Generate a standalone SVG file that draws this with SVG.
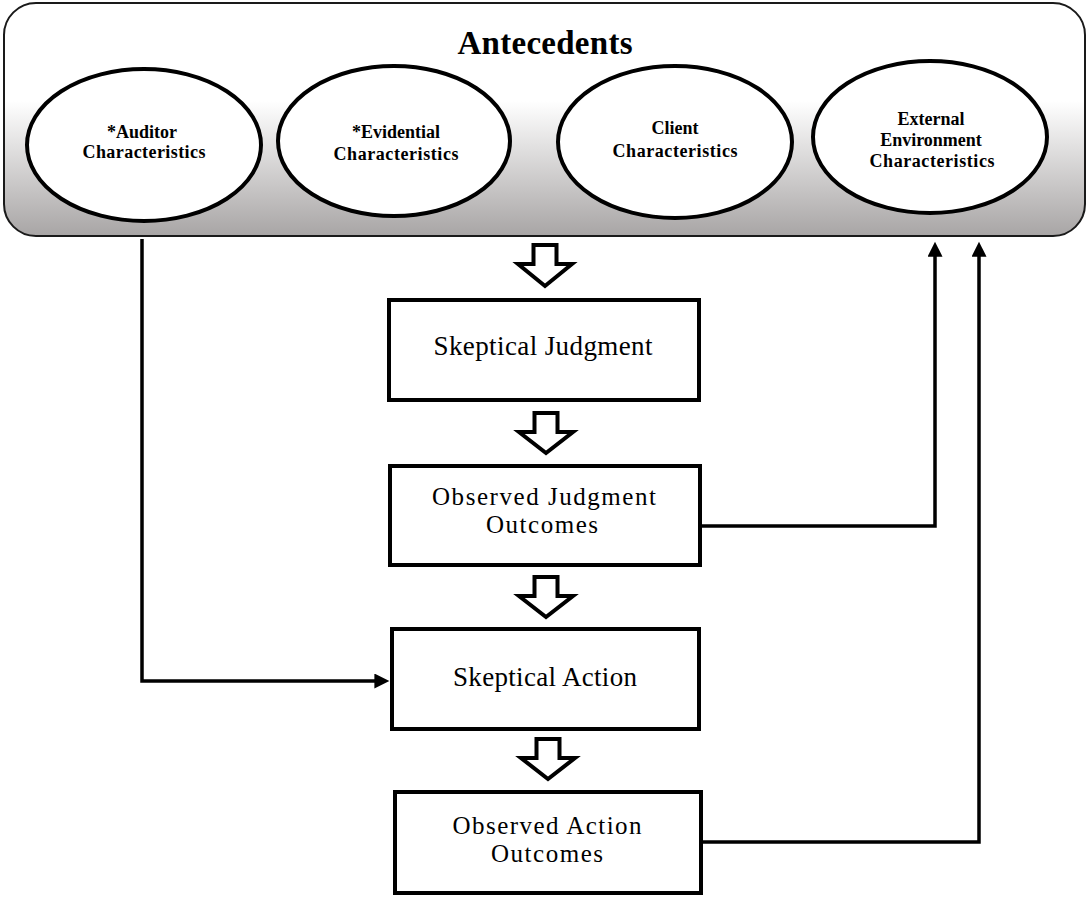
<svg xmlns="http://www.w3.org/2000/svg" width="1089" height="899" viewBox="0 0 1089 899">
<defs>
<linearGradient id="bg" x1="0" y1="0" x2="0" y2="1">
<stop offset="0" stop-color="#ffffff"/>
<stop offset="0.42" stop-color="#ffffff"/>
<stop offset="1" stop-color="#a8a5a5"/>
</linearGradient>
<marker id="ah" viewBox="0 0 16 16" refX="6" refY="8" markerWidth="16" markerHeight="15" markerUnits="userSpaceOnUse" orient="auto">
<path d="M0,0 L16,8 L0,16 z" fill="#000"/>
</marker>
<style>
.ell{fill:#fff;stroke:#000;stroke-width:4}
.box{fill:#fff;stroke:#000;stroke-width:4}
.blk{fill:#fff;stroke:#000;stroke-width:4;stroke-linejoin:miter}
.et{font-family:"Liberation Serif","Times New Roman",serif;font-weight:bold;font-size:18px;text-anchor:middle;fill:#000}
.bt{font-family:"Liberation Serif","Times New Roman",serif;font-size:27px;text-anchor:middle;fill:#000}
.bt2{font-family:"Liberation Serif","Times New Roman",serif;font-size:25px;text-anchor:middle;fill:#000}
.con{fill:none;stroke:#000;stroke-width:3.5}
</style>
</defs>
<g id="antecedents">
<rect x="4" y="3" width="1081" height="233" rx="32" ry="32" fill="url(#bg)" stroke="#1a1a1a" stroke-width="2"/>
<text x="545" y="54" font-family="'Liberation Serif','Times New Roman',serif" font-weight="bold" font-size="33" text-anchor="middle" textLength="175">Antecedents</text>
</g>
<g id="auditor">
<ellipse class="ell" cx="144" cy="145" rx="117" ry="76"/>
<text class="et" x="142" y="138">*Auditor</text>
<text class="et" x="144" y="158" textLength="123">Characteristics</text>
</g>
<g id="evidential">
<ellipse class="ell" cx="394" cy="141" rx="116" ry="75"/>
<text class="et" x="396" y="138">*Evidential</text>
<text class="et" x="396" y="160" textLength="125">Characteristics</text>
</g>
<g id="client">
<ellipse class="ell" cx="675" cy="142" rx="117" ry="76"/>
<text class="et" x="675" y="134">Client</text>
<text class="et" x="675" y="157" textLength="125">Characteristics</text>
</g>
<g id="external">
<ellipse class="ell" cx="930" cy="137" rx="117" ry="76"/>
<text class="et" x="931" y="125">External</text>
<text class="et" x="931" y="146">Environment</text>
<text class="et" x="932" y="167" textLength="125">Characteristics</text>
</g>
<g id="skeptical-judgment">
<rect class="box" x="389" y="300" width="310" height="100"/>
<text class="bt" x="543" y="355" textLength="219">Skeptical Judgment</text>
</g>
<g id="observed-judgment-outcomes">
<rect class="box" x="390" y="466" width="310" height="99"/>
<text class="bt2" x="544" y="505" textLength="224">Observed Judgment</text>
<text class="bt2" x="542" y="533" textLength="112">Outcomes</text>
</g>
<g id="skeptical-action">
<rect class="box" x="392" y="629" width="307" height="100"/>
<text class="bt" x="545" y="686" textLength="184">Skeptical Action</text>
</g>
<g id="observed-action-outcomes">
<rect class="box" x="395" y="792" width="306" height="101"/>
<text class="bt2" x="547" y="834" textLength="189">Observed Action</text>
<text class="bt2" x="547" y="862" textLength="112">Outcomes</text>
</g>
<g id="connectors">
<polygon class="blk" points="533.5,245 556.5,245 556.5,264 572,264 545,286 518,264 533.5,264"/>
<polygon class="blk" points="534.5,413 557.5,413 557.5,432 573,432 546,453 519,432 534.5,432"/>
<polygon class="blk" points="534.5,577 557.5,577 557.5,596 573,596 546,617 519,596 534.5,596"/>
<polygon class="blk" points="536.5,739 559.5,739 559.5,758 575,758 548,779 521,758 536.5,758"/>
<path class="con" d="M142,239 V681 H380" marker-end="url(#ah)"/>
<path class="con" d="M701,526 H935 V251" marker-end="url(#ah)"/>
<path class="con" d="M703,842 H979 V251" marker-end="url(#ah)"/>
</g>
</svg>
